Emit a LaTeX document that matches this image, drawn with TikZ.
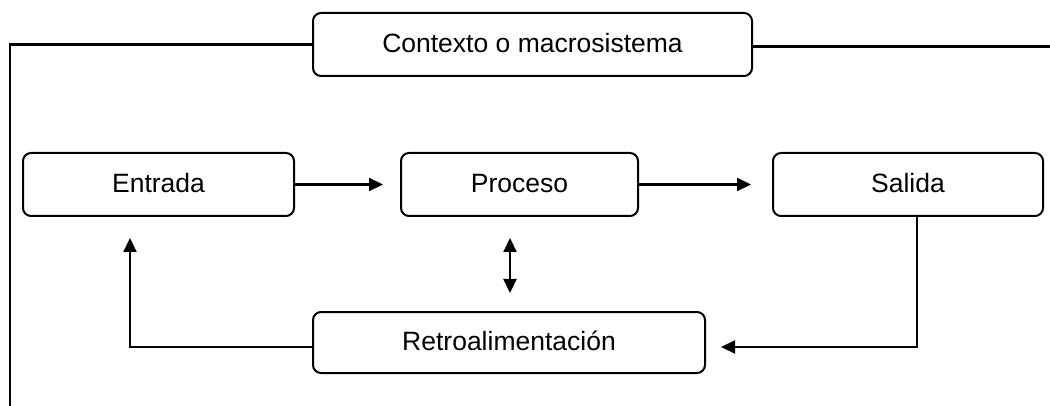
\documentclass[tikz,border=0pt]{standalone}
\usepackage{fontspec}
\setmainfont{Liberation Sans}
\usetikzlibrary{arrows.meta}
\begin{document}
\begin{tikzpicture}[x=1pt,y=-1pt,
  box/.style={draw,line width=2pt,rounded corners=8pt,inner sep=0pt,text height=17.5pt,text depth=2pt,font=\fontsize{26.5}{30}\selectfont},
  conn/.style={line width=2.2pt},
  arr/.style={conn,-{Triangle[length=14pt,width=13pt]}}]
\useasboundingbox (0,0) rectangle (1050,406);
\node[box,minimum width=439pt,minimum height=63pt] (ctx) at (532.5,44.5) {Contexto o macrosistema};
\node[box,minimum width=271pt,minimum height=63pt] (ent) at (158.5,184.5) {Entrada};
\node[box,minimum width=237pt,minimum height=63pt] (pro) at (519.5,184.5) {Proceso};
\node[box,minimum width=270pt,minimum height=63pt] (sal) at (908,184.5) {Salida};
\node[box,minimum width=392pt,minimum height=61pt] (ret) at (509,342.5) {Retroalimentación};
\coordinate (lc) at (10,44.5);
\coordinate (lb) at (10,406);
\coordinate (rc) at (1050,46.5);
\draw[conn] (ctx.west) -- (lc) -- (lb);
\draw[conn] (ctx.east |- rc) -- (rc);
\draw[arr,shorten >=17pt] (ent.east) -- (pro.west);
\draw[arr,shorten >=21pt] (pro.east) -- (sal.west);
\draw[conn,{Triangle[length=14pt,width=13pt]}-{Triangle[length=14pt,width=13pt]},shorten <=21pt,shorten >=18pt] ([xshift=-9.5pt]pro.south) -- ([xshift=-9.5pt]pro.south |- ret.north);
\draw[arr,shorten >=15pt] ([xshift=9pt]sal.south) |- ([yshift=-4.5pt]ret.east);
\draw[arr,shorten >=21pt] ([yshift=-4.5pt]ret.west) -| ([xshift=-28.5pt]ent.south);
\end{tikzpicture}
\end{document}
